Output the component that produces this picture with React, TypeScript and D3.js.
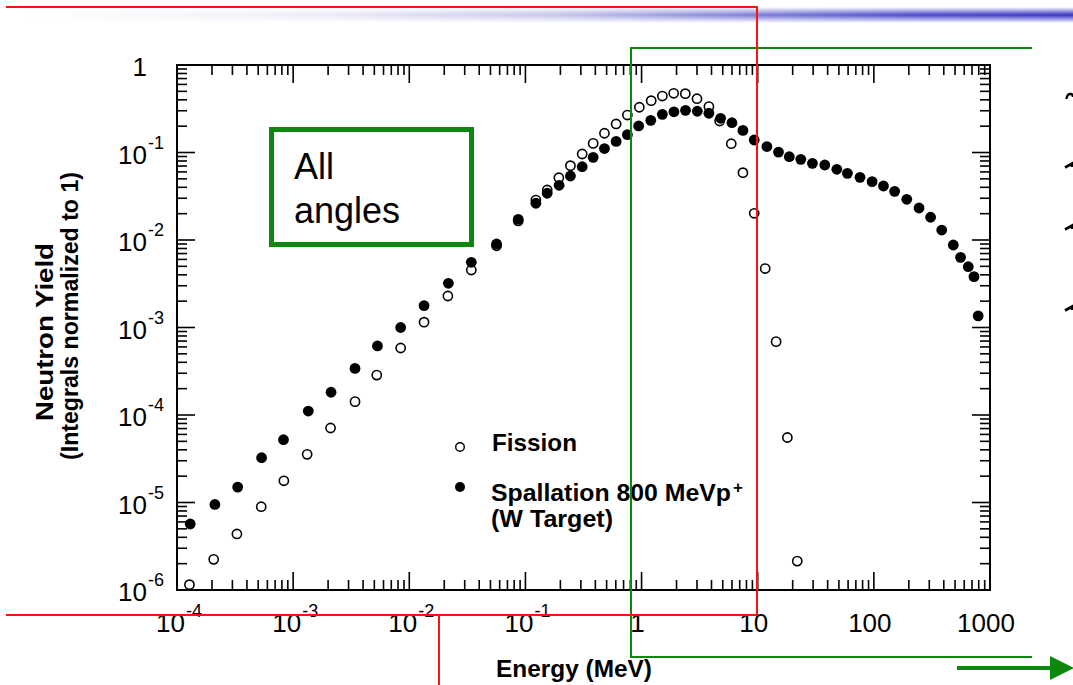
import React from "react";
import * as d3 from "d3";

// ---------- data ----------
const fissionEnergy = [
  1.28e-4, 2.07e-4, 3.28e-4, 5.31e-4, 8.32e-4, 1.32e-3, 2.1e-3, 3.41e-3, 5.25e-3, 8.43e-3,
  1.34e-2, 2.15e-2, 3.42e-2, 5.64e-2, 8.67e-2, 0.123, 0.154, 0.194, 0.244, 0.308,
  0.383, 0.479, 0.604, 0.755, 0.957, 1.21, 1.51, 1.89, 2.38, 3.0,
  3.8, 4.7, 5.92, 7.46, 9.33, 11.6, 14.4, 18.0, 21.9,
];
const fissionYield = [
  1.15e-6, 2.24e-6, 4.37e-6, 8.95e-6, 1.77e-5, 3.55e-5, 7.1e-5, 1.42e-4, 2.86e-4, 5.83e-4,
  1.15e-3, 2.29e-3, 4.54e-3, 8.6e-3, 1.65e-2, 2.86e-2, 3.73e-2, 5.15e-2, 7.07e-2, 0.0961,
  0.127, 0.166, 0.212, 0.268, 0.329, 0.391, 0.442, 0.475, 0.47, 0.412,
  0.334, 0.229, 0.126, 0.0588, 0.0202, 4.72e-3, 6.89e-4, 5.53e-5, 2.14e-6,
];
const spallEnergy = [
  1.3e-4, 2.12e-4, 3.33e-4, 5.35e-4, 8.26e-4, 1.35e-3, 2.12e-3, 3.41e-3, 5.32e-3, 8.43e-3,
  1.34e-2, 2.17e-2, 3.42e-2, 5.64e-2, 8.67e-2, 0.123, 0.154, 0.195, 0.244, 0.308,
  0.383, 0.479, 0.604, 0.755, 0.944, 1.2, 1.51, 1.9, 2.39, 3.02,
  3.8, 4.79, 6.0, 7.46, 9.33, 12.0, 15.1, 18.7, 23.5, 29.6,
  37.8, 48.0, 59.2, 76.0, 96.6, 121, 151, 192, 245, 308,
  384, 483, 558, 650, 728, 791,
];
const spallYield = [
  5.68e-6, 9.5e-6, 1.5e-5, 3.25e-5, 5.22e-5, 1.11e-4, 1.82e-4, 3.41e-4, 6.15e-4, 1.0e-3,
  1.78e-3, 3.2e-3, 5.56e-3, 9.0e-3, 1.72e-2, 2.63e-2, 3.42e-2, 4.22e-2, 5.39e-2, 6.88e-2,
  8.81e-2, 0.111, 0.134, 0.16, 0.201, 0.233, 0.273, 0.292, 0.303, 0.296,
  0.281, 0.246, 0.219, 0.179, 0.139, 0.117, 0.101, 0.0895, 0.0836, 0.0752,
  0.072, 0.0643, 0.0578, 0.052, 0.0464, 0.0414, 0.036, 0.0292, 0.0232, 0.0182,
  0.013, 8.77e-3, 6.34e-3, 4.95e-3, 3.81e-3, 1.36e-3,
];

const xTickValues = [1e-4, 1e-3, 1e-2, 1e-1, 1, 10, 100, 1000];
const xTickBase = ["10", "10", "10", "10", "1", "10", "100", "1000"];
const xTickExp = ["-4", "-3", "-2", "-1", "", "", "", ""];
const yTickValues = [1, 1e-1, 1e-2, 1e-3, 1e-4, 1e-5, 1e-6];
const yTickBase = ["1", "10", "10", "10", "10", "10", "10"];
const yTickExp = ["", "-1", "-2", "-3", "-4", "-5", "-6"];

const xTitle = "Energy (MeV)";
const yTitle1 = "Neutron Yield";
const yTitle2 = "(Integrals normalized to 1)";
const legendFission = "Fission";
const legendSpall = "Spallation 800 MeVp";
const legendSpall2 = "(W Target)";
const boxLine1 = "All";
const boxLine2 = "angles";

const FONT = "'Liberation Sans', Arial, Helvetica, sans-serif";
const GREEN = "#0e870e";
const RED = "#ff1010";

export default function App() {
  const W = 1073;
  const H = 685;
  const left = 177, right = 990, top = 65, bottom = 590;

  const x = d3.scaleLog().domain([1e-4, 1e3]).range([left, right]);
  const y = d3.scaleLog().domain([1e-6, 1]).range([bottom, top]);

  const xMinor = x.ticks();
  const yMinor = y.ticks();
  const isMajor = (v: number) => Math.abs(Math.log10(v) - Math.round(Math.log10(v))) < 1e-9;

  const fission = fissionEnergy.map((e, i) => [e, fissionYield[i]] as [number, number]);
  const spall = spallEnergy.map((e, i) => [e, spallYield[i]] as [number, number]);

  const majorLen = 18, minorLen = 10;

  return (
    <div style={{ position: "absolute", left: 0, top: 0, width: W, height: H, background: "#fff" }}>
      <svg width={W} height={H} style={{ display: "block" }} fontFamily={FONT}>
        <defs>
          <linearGradient id="hband" gradientUnits="userSpaceOnUse" x1="0" y1="0" x2={W} y2="0">
            <stop offset="0.02" stopColor="#ffffff" />
            <stop offset="0.3" stopColor="#ececf7" />
            <stop offset="0.52" stopColor="#c4c4ea" />
            <stop offset="0.7" stopColor="#7d7dd8" />
            <stop offset="0.85" stopColor="#4a4acc" />
            <stop offset="1" stopColor="#3434c4" />
          </linearGradient>
          <linearGradient id="vband" x1="0" y1="0" x2="0" y2="1">
            <stop offset="0" stopColor="#000" />
            <stop offset="0.3" stopColor="#999" />
            <stop offset="0.5" stopColor="#fff" />
            <stop offset="0.7" stopColor="#999" />
            <stop offset="1" stopColor="#000" />
          </linearGradient>
          <mask id="bandMask">
            <rect x={0} y={7} width={W} height={16} fill="url(#vband)" />
          </mask>
          <marker id="arrowHead" markerWidth="6" markerHeight="6" refX="3" refY="3" orient="auto" markerUnits="strokeWidth">
            <path d="M0,0 L6,3 L0,6 Z" fill={GREEN} />
          </marker>
        </defs>

        <rect x={0} y={0} width={W} height={H} fill="#fff" />

        {/* header band */}
        <rect x={0} y={7} width={W} height={16} fill="url(#hband)" mask="url(#bandMask)" />

        {/* plot frame */}
        <rect x={left} y={top} width={right - left} height={bottom - top} fill="none" stroke="#000" strokeWidth={2} />

        {/* x ticks bottom and top */}
        {xMinor.map((v, i) => {
          const len = isMajor(v) ? majorLen : minorLen;
          const px = x(v);
          return (
            <g key={"xt" + i}>
              <line x1={px} x2={px} y1={bottom} y2={bottom - len} stroke="#000" strokeWidth={1.6} />
              <line x1={px} x2={px} y1={top} y2={top + len} stroke="#000" strokeWidth={1.6} />
            </g>
          );
        })}
        {/* y ticks left and right */}
        {yMinor.map((v, i) => {
          const len = isMajor(v) ? majorLen : minorLen;
          const py = y(v);
          return (
            <g key={"yt" + i}>
              <line x1={left} x2={left + len} y1={py} y2={py} stroke="#000" strokeWidth={1.6} />
              <line x1={right} x2={right - len} y1={py} y2={py} stroke="#000" strokeWidth={1.6} />
            </g>
          );
        })}

        {/* x tick labels */}
        {xTickValues.map((v, i) => {
          const px = x(v);
          if (xTickExp[i]) {
            return (
              <g key={"xl" + i}>
                <text x={px + 8} y={632} fontSize={26} textAnchor="end" fill="#000">{xTickBase[i]}</text>
                <text x={px + 9} y={617} fontSize={18} textAnchor="start" fill="#000">{xTickExp[i]}</text>
              </g>
            );
          }
          return (
            <text key={"xl" + i} x={px - 4} y={632} fontSize={26} textAnchor="middle" fill="#000">
              {xTickBase[i]}
            </text>
          );
        })}

        {/* y tick labels */}
        {yTickValues.map((v, i) => {
          const py = y(v);
          return (
            <g key={"yl" + i}>
              <text x={147} y={py + 11} fontSize={26} textAnchor="end" fill="#000">{yTickBase[i]}</text>
              {yTickExp[i] && (
                <text x={148} y={py - 4} fontSize={18} textAnchor="start" fill="#000">{yTickExp[i]}</text>
              )}
            </g>
          );
        })}

        {/* axis titles */}
        <text x={496} y={677} fontSize={23} fontWeight="bold" textLength={156} lengthAdjust="spacingAndGlyphs" fill="#000">
          {xTitle}
        </text>
        <text transform="translate(53,332) rotate(-90)" fontSize={23} fontWeight="bold" textAnchor="middle"
          textLength={178} lengthAdjust="spacingAndGlyphs" fill="#000">
          {yTitle1}
        </text>
        <text transform="translate(78,316) rotate(-90)" fontSize={23} fontWeight="bold" textAnchor="middle"
          textLength={288} lengthAdjust="spacingAndGlyphs" fill="#000">
          {yTitle2}
        </text>

        {/* data: fission (open) */}
        {fission.map((d, i) => (
          <circle key={"f" + i} cx={x(d[0])} cy={y(d[1])} r={4.6} fill="none" stroke="#000" strokeWidth={1.6} />
        ))}
        {/* data: spallation (filled) */}
        {spall.map((d, i) => (
          <circle key={"s" + i} cx={x(d[0])} cy={y(d[1])} r={5.4} fill="#000" />
        ))}

        {/* legend */}
        <circle cx={460} cy={447} r={4.3} fill="none" stroke="#000" strokeWidth={1.4} />
        <text x={492} y={451} fontSize={24} fontWeight="bold" textLength={85} lengthAdjust="spacingAndGlyphs" fill="#000">
          {legendFission}
        </text>
        <circle cx={460} cy={487} r={5} fill="#000" />
        <text x={491} y={501} fontSize={24} fontWeight="bold" textLength={240} lengthAdjust="spacingAndGlyphs" fill="#000">
          {legendSpall}
        </text>
        <text x={733} y={493} fontSize={17} fontWeight="bold" fill="#000">+</text>
        <text x={491} y={527} fontSize={24} fontWeight="bold" textLength={122} lengthAdjust="spacingAndGlyphs" fill="#000">
          {legendSpall2}
        </text>

        {/* "All angles" box */}
        <rect x={271.5} y={129.5} width={200} height={115} fill="none" stroke={GREEN} strokeWidth={5} />
        <text x={294} y={179} fontSize={36} fill="#000">{boxLine1}</text>
        <text x={294} y={223} fontSize={36} fill="#000">{boxLine2}</text>

        {/* green bracket */}
        <polyline points={`1032,48 631,48 631,657 1032,657`} fill="none" stroke={GREEN} strokeWidth={2} />
        <line x1={957} y1={668} x2={1062} y2={668} stroke={GREEN} strokeWidth={4} markerEnd="url(#arrowHead)" />

        {/* red outlines */}
        <polyline points={`6,7 757,7 757,615 6,615`} fill="none" stroke={RED} strokeWidth={2} />
        <line x1={439} y1={615} x2={439} y2={H} stroke={RED} strokeWidth={2} />

        {/* slivers of the neighbouring slide's tick labels at the right edge */}
        <path d="M1066.5,99 Q1067,93.5 1071,94 Q1073,94.5 1073,97" fill="none" stroke="#000" strokeWidth={2.4} />
        <path d="M1065,167.5 L1072,163.5 L1072,167" fill="none" stroke="#000" strokeWidth={2.6} />
        <path d="M1065,229.5 L1072,225.5 L1072,229" fill="none" stroke="#000" strokeWidth={2.6} />
        <path d="M1065,310.5 L1072,306.5 L1072,310" fill="none" stroke="#000" strokeWidth={2.6} />
      </svg>
    </div>
  );
}
